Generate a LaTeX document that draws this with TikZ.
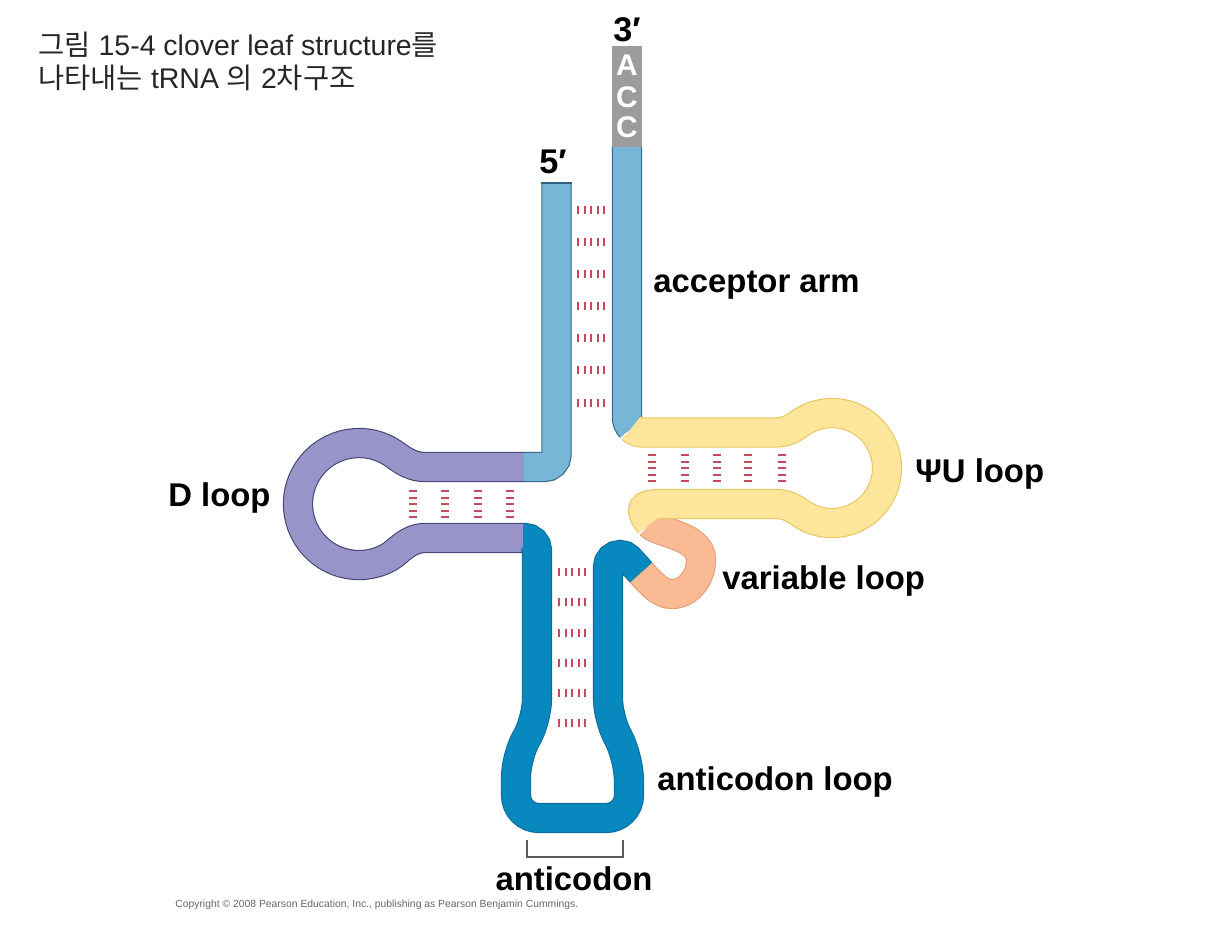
\documentclass[tikz,border=0pt]{standalone}
\usepackage{fontspec}
\setmainfont{Liberation Sans}
\newfontfamily\krfont{Noto Sans CJK KR}

\definecolor{accFill}{HTML}{78B6D8}
\definecolor{accOut}{HTML}{2F6285}
\definecolor{dFill}{HTML}{9893C8}
\definecolor{dOut}{HTML}{3E3F6E}
\definecolor{acFill}{HTML}{0788BE}
\definecolor{acOut}{HTML}{0B6E9A}
\definecolor{psiFill}{HTML}{FDE69B}
\definecolor{psiOut}{HTML}{E9C45A}
\definecolor{varFill}{HTML}{F9BA94}
\definecolor{varOut}{HTML}{E59E76}
\definecolor{cccaGray}{HTML}{9C9C9C}
\definecolor{bpRed}{HTML}{C8485E}

\begin{document}
\begin{tikzpicture}[x=0.02cm, y=0.02cm,
    strand/.style 2 args={draw=#1, double=#2, line width=0.6pt, double distance=16pt, line cap=butt},
    bpair/.style={draw=bpRed, line width=4.2pt, dash pattern=on 1.2pt off 2.5pt},
    lbl/.style={font=\fontsize{18.7}{22}\selectfont\bfseries, anchor=base west, inner sep=0pt},
    endlbl/.style={font=\fontsize{19.5}{22}\selectfont\bfseries, anchor=base, inner sep=0pt},
    titel/.style={anchor=base west, inner sep=0pt, text=black!85, font=\fontsize{16.2}{18}\selectfont}]
    \useasboundingbox (0,0) rectangle (1214,-931);

    % Titel
    \node[titel] (title1) at (38,-55) {{\krfont 그림} 15-4 clover leaf structure{\krfont 를}};
    \node[titel] (title2) at (38,-88) {{\krfont 나타내는} tRNA {\krfont 의} 2{\krfont 차구조}};

    % 3' uiteinde met ACC
    \fill[cccaGray] (612,-46) rectangle (642,-147);
    \foreach \b/\y [count=\i] in {A/65,C/97,C/127}
        \node[inner sep=0pt, text=white, font=\fontsize{17}{18}\selectfont\bfseries] (acc\i) at (627,-\y) {\b};

    % Acceptor arm
    \draw[strand={accOut}{accFill}] (627,-147) -- (627,-417.5) arc(180:225:15);
    \draw[strand={accOut}{accFill}, rounded corners=7pt] (556.5,-183) -- (556.5,-467) -- (523,-467);
    \draw[accOut, line width=0.6pt] (541.3,-183) -- (571.7,-183);

    % D loop
    \draw[strand={dOut}{dFill}] (523,-467) -- (425,-467) .. controls (408,-467) and (398.2,-456.2) .. (389.5,-451.2)
        arc(60:300:61) .. controls (398,-551.9) and (408,-538) .. (425,-538) -- (523,-538);

    % Variable loop
    \draw[strand={varOut}{varFill}] (641,-572.4) .. controls (651,-583.5) and (660,-594) .. (672,-594)
        .. controls (688,-594) and (701,-578) .. (701,-560)
        .. controls (701,-535) and (657.5,-533.3) .. (650,-524);

    % PsiU loop
    \draw[strand={psiOut}{psiFill}] (631.4,-428.1) arc(225:270:15) -- (775,-432.5)
        .. controls (790,-432.5) and (796,-425.5) .. (804.5,-420.4)
        arc(120:-120:55) .. controls (796,-510.5) and (790,-504) .. (775,-504)
        -- (660,-504) .. controls (642,-504) and (638,-509) .. (650,-524);

    % Anticodon arm
    \draw[strand={acOut}{acFill}, rounded corners=7pt] (523,-538) -- (537,-538)
        [rounded corners=11pt] -- (537,-718) -- (516,-758)
        [rounded corners=13pt] -- (516,-818) -- (629,-818) -- (629,-758)
        [rounded corners=11pt] -- (608,-718) -- (608,-620);
    \draw[strand={acOut}{acFill}] (608,-620) -- (608,-567) arc(180:42:12) -- (641,-572.4);

    % Baseparen
    \foreach \y in {210,242,274,306,338,370,403}
        \draw[bpair] (577,-\y) -- (605,-\y);
    \foreach \y in {572,602,633,663,693,723}
        \draw[bpair] (558,-\y) -- (586,-\y);
    \foreach \x in {413,445,478,510}
        \draw[bpair] (\x,-490) -- (\x,-518);
    \foreach \x in {652,685,717,748,782}
        \draw[bpair] (\x,-454) -- (\x,-482);

    % Anticodon haak
    \draw[black!65, line width=0.9pt] (527,-840) -- (527,-857) -- (623,-857) -- (623,-840);

    % Labels
    \node[endlbl] (fiveP) at (553,-173) {5′};
    \node[endlbl] (threeP) at (627,-41) {3′};
    \node[lbl] (lblAcceptor) at (653,-292) {acceptor arm};
    \node[lbl] (lblD) at (168,-506) {D loop};
    \node[lbl] (lblPsi) at (915,-482) {ΨU loop};
    \node[lbl] (lblVar) at (722,-589) {variable loop};
    \node[lbl] (lblAcLoop) at (657,-790) {anticodon loop};
    \node[lbl, anchor=base] (lblAnticodon) at (574,-890) {anticodon};
    \node[anchor=base west, inner sep=0pt, text=black!60, font=\fontsize{5.9}{6}\selectfont] (copy) at (175,-907)
        {Copyright © 2008 Pearson Education, Inc., publishing as Pearson Benjamin Cummings.};
\end{tikzpicture}
\end{document}
